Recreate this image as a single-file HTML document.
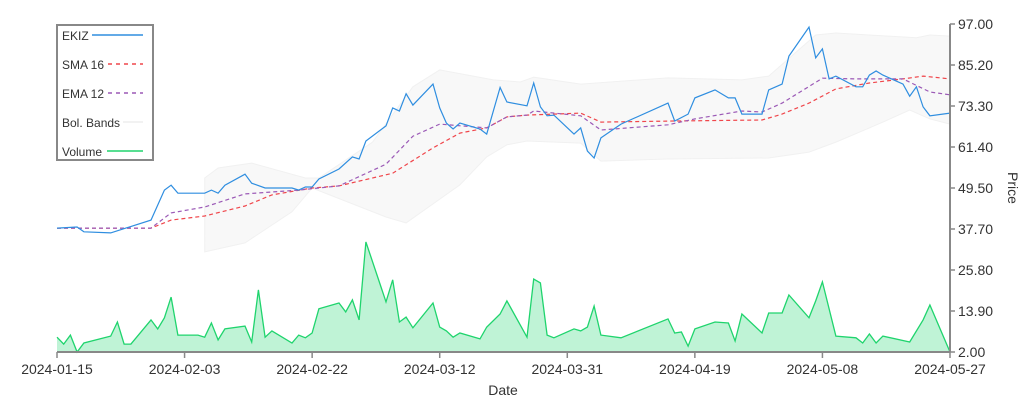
<!DOCTYPE html>
<html><head><meta charset="utf-8"><style>
html,body{margin:0;padding:0;background:#fff;width:1024px;height:400px;overflow:hidden}
svg text{font-family:"Liberation Sans",sans-serif;fill:#333}
</style></head><body>
<svg id="chart" width="1024" height="400" viewBox="0 0 1024 400" xmlns="http://www.w3.org/2000/svg">
<g id="bands"></g>
<g id="vol"></g>
<g id="lines"></g>
<g id="axes"></g>
<g id="legend"></g>
</svg>
<script>
const priceDays=[0,3,4,8,14,16,17,18,22,23,24,25,28,29,31,35,36,37,38,39,42,44,45,46,49,50,51,52,53,56,57,58,59,60,63,64,66,67,70,71,72,73,74,77,78,79,80,81,84,91,92,94,95,98,100,101,102,105,106,108,109,112,113,114,115,116,119,120,121,122,123,126,127,128,129,130,133];
const priceVals=[37.9,38.2,36.8,36.5,40.2,48.9,50.3,48.0,48.0,48.9,48.0,50.3,53.5,50.9,49.5,49.5,48.9,49.8,49.8,52.1,55.0,58.5,57.9,63.1,67.5,72.7,71.8,76.8,73.5,79.6,72.7,68.3,66.6,68.3,66.6,65.1,78.6,74.4,73.3,79.9,73.0,70.4,70.6,65.1,66.9,60.2,58.2,64.0,68.0,74.1,68.9,70.9,75.6,77.9,75.6,75.6,70.9,70.9,77.9,79.6,87.7,96.1,87.2,89.8,81.1,81.9,78.8,78.8,82.2,83.4,82.2,79.6,76.1,78.8,73.0,70.4,71.2];
const volDays=[0,1,2,3,4,8,9,10,11,14,15,16,17,18,21,22,23,24,25,28,29,30,31,32,35,36,37,38,39,42,43,44,45,46,49,50,51,52,53,56,57,58,59,60,63,64,66,67,70,71,72,73,74,77,78,79,80,81,84,91,92,93,94,95,98,100,101,102,105,106,108,109,112,113,114,116,119,120,121,122,123,127,129,130,133];
const volVals=[6.3,4.3,6.9,2.0,4.6,6.6,10.7,4.3,4.3,11.3,8.7,11.9,17.9,6.9,6.9,6.3,10.4,5.5,8.7,9.5,4.9,20.0,6.3,8.1,4.6,6.9,6.1,7.5,14.5,16.2,13.6,17.1,11.3,33.9,16.5,22.9,10.7,12.1,9.0,16.2,9.2,8.1,6.3,7.5,5.8,9.2,13.0,16.8,6.3,23.1,22.0,6.9,6.1,8.7,8.1,9.2,15.3,6.9,6.1,11.6,7.5,7.8,3.7,8.7,10.7,10.4,5.2,13.0,7.5,13.3,13.3,18.5,11.9,16.8,22.3,6.6,6.1,4.6,7.2,4.6,6.6,4.9,11.3,15.6,2.0];
const smaDays=[0,14,17,22,28,32,38,42,50,56,60,64,67,70,78,81,92,105,108,112,116,121,126,129,133];
const smaVals=[37.9,37.9,40.2,41.4,44.3,47.5,49.5,50.1,53.8,61.1,65.4,66.9,70.1,70.6,71.2,68.6,68.9,69.2,70.9,74.1,78.2,79.9,81.1,81.9,81.1];
const emaDays=[0,14,17,22,28,36,42,49,53,57,64,67,70,71,78,81,91,95,102,105,108,114,119,126,130,133];
const emaVals=[37.9,37.9,42.3,44.0,47.8,48.9,50.1,56.4,64.5,68.0,66.9,70.1,70.6,71.8,70.4,66.3,67.8,69.5,71.8,71.5,74.1,81.3,81.1,81.1,77.3,76.5];
const upperDays=[22,24,29,37,39,47,53,57,65,69,71,78,91,102,106,113,116,128,130,133];
const upperVals=[52.4,55.3,56.7,52.4,52.4,62.8,78.8,83.7,80.8,80.2,81.6,79.6,81.4,80.8,81.9,93.8,94.4,93.0,93.8,93.5];
const lowerDays=[22,28,35,38,49,52,60,64,67,70,78,81,91,106,112,116,121,123,127,130,133];
const lowerVals=[31.0,33.6,42.6,49.5,41.1,39.4,50.4,58.5,62.0,63.1,62.5,57.3,57.9,58.2,59.9,62.8,66.9,68.6,72.1,69.5,68.0];
const yTicks=["2.00","13.90","25.80","37.70","49.50","61.40","73.30","85.20","97.00"];
const xTicks=["2024-01-15","2024-02-03","2024-02-22","2024-03-12","2024-03-31","2024-04-19","2024-05-08","2024-05-27"];

const L=57,R=950,T=24,B=352,maxDay=133,yMin=2,yMax=97;
const NS="http://www.w3.org/2000/svg";
function X(d){return L+(R-L)*d/maxDay;}
function Y(v){return B-(B-T)*(v-yMin)/(yMax-yMin);}
function mk(tag,attrs,parent){const e=document.createElementNS(NS,tag);for(const k in attrs)e.setAttribute(k,attrs[k]);parent.appendChild(e);return e;}
function pts(ds,vs){return ds.map((d,i)=>X(d).toFixed(1)+","+Y(vs[i]).toFixed(1)).join(" ");}

const gB=document.getElementById('bands');
let bp=pts(upperDays,upperVals)+" "+lowerDays.slice().reverse().map((d,i)=>{const j=lowerDays.length-1-i;return X(d).toFixed(1)+","+Y(lowerVals[j]).toFixed(1);}).join(" ");
const band=mk('polygon',{points:bp,fill:'#f8f8f8',stroke:'#f1f1f1','stroke-width':1},gB);



const gV=document.getElementById('vol');
const va=mk('polygon',{points:X(volDays[0])+","+B+" "+pts(volDays,volVals)+" "+X(volDays[volDays.length-1])+","+B,fill:'#bff3d6'},gV);


const vl=mk('polyline',{points:pts(volDays,volVals),fill:'none',stroke:'#1fd46d','stroke-width':1.3},gV);



const gL=document.getElementById('lines');
const sma=mk('polyline',{points:pts(smaDays,smaVals),fill:'none',stroke:'#f0464b','stroke-width':1.2,'stroke-dasharray':'4,3'},gL);


const ema=mk('polyline',{points:pts(emaDays,emaVals),fill:'none',stroke:'#9b59b6','stroke-width':1.2,'stroke-dasharray':'4,3'},gL);


const pl=mk('polyline',{points:pts(priceDays,priceVals),fill:'none',stroke:'#2f8ee0','stroke-width':1.2},gL);



const gA=document.getElementById('axes');
const ya=mk('line',{x1:R,y1:T,x2:R,y2:B,stroke:'#888','stroke-width':2},gA);


const xa=mk('line',{x1:L,y1:B,x2:R,y2:B,stroke:'#888','stroke-width':2},gA);


yTicks.forEach((t,i)=>{
  const v=yMin+(yMax-yMin)*i/(yTicks.length-1);
  const y=Y(v);
  mk('line',{x1:R,y1:y,x2:R+5,y2:y,stroke:'#888','stroke-width':1.5},gA);
  const tx=mk('text',{x:R+8,y:y+5,'font-size':14},gA);
  tx.textContent=t;
  
  
});
xTicks.forEach((t,i)=>{
  const x=X(maxDay*i/(xTicks.length-1));
  mk('line',{x1:x,y1:B,x2:x,y2:B+6,stroke:'#888','stroke-width':1.5},gA);
  const tx=mk('text',{x:x,y:B+22,'font-size':14,'text-anchor':'middle'},gA);
  tx.textContent=t;
  
  
});
const xt=mk('text',{x:503,y:395,'font-size':14,'text-anchor':'middle'},gA);
xt.textContent='Date';


const yt=mk('text',{x:1008,y:188,'font-size':14,'text-anchor':'middle',transform:'rotate(90 1008 188)'},gA);
yt.textContent='Price';



const gLeg=document.getElementById('legend');
const lb=mk('rect',{x:57,y:25,width:96,height:135,fill:'#fff',stroke:'#888','stroke-width':2},gLeg);


const legLabels=["EKIZ","SMA 16","EMA 12","Bol. Bands","Volume"];
const legColors=["#2f8ee0","#f0464b","#9b59b6","#eeeeee","#1fd46d"];
const legDash=["","4,4","4,4","",""];
legLabels.forEach((s,i)=>{
  const y=35+i*29;
  const tx=mk('text',{x:62,y:y+5,'font-size':12},gLeg);
  tx.textContent=s;
  
  
  const ln=mk('line',{x1:i==3?123:(i==4?107:(i==0?92:108)),y1:y,x2:143,y2:y,stroke:legColors[i],'stroke-width':2,'stroke-dasharray':legDash[i],opacity:0.75},gLeg);
  
  
});
</script>
</body></html>
